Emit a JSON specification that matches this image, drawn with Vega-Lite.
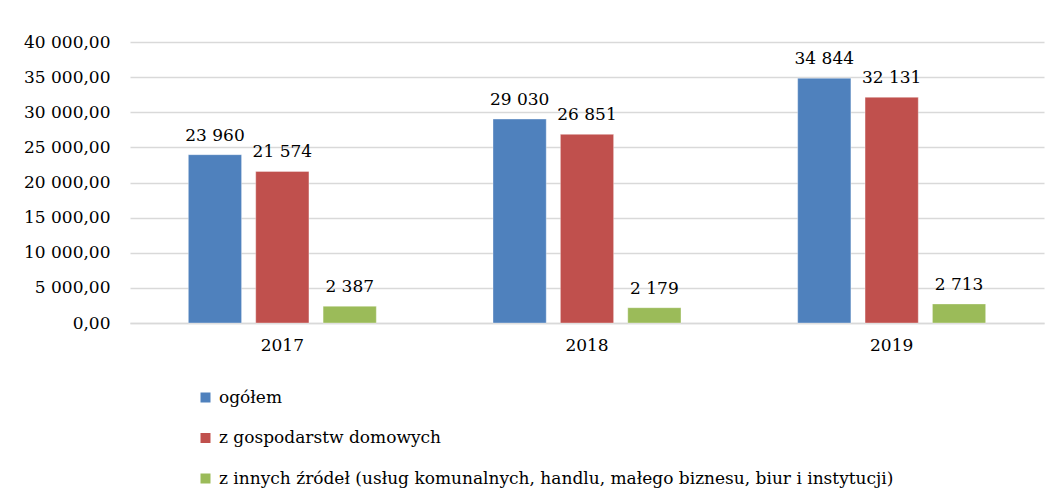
{
  "$schema": "https://vega.github.io/schema/vega-lite/v6.json",
  "width": 914,
  "height": 281,
  "autosize": "none",
  "padding": {"left": 130, "top": 42, "right": 16, "bottom": 175},
  "background": "white",
  "config": {
    "font": "DejaVu Serif",
    "view": {"stroke": null},
    "locale": {"number": {"decimal": ",", "thousands": " ", "grouping": [3], "currency": ["", ""]}}
  },
  "data": {
    "values": [
      {"rok": "2017", "seria": "ogółem", "wartosc": 23960},
      {"rok": "2017", "seria": "z gospodarstw domowych", "wartosc": 21574},
      {"rok": "2017", "seria": "z innych źródeł (usług komunalnych, handlu, małego biznesu, biur i instytucji)", "wartosc": 2387},
      {"rok": "2018", "seria": "ogółem", "wartosc": 29030},
      {"rok": "2018", "seria": "z gospodarstw domowych", "wartosc": 26851},
      {"rok": "2018", "seria": "z innych źródeł (usług komunalnych, handlu, małego biznesu, biur i instytucji)", "wartosc": 2179},
      {"rok": "2019", "seria": "ogółem", "wartosc": 34844},
      {"rok": "2019", "seria": "z gospodarstw domowych", "wartosc": 32131},
      {"rok": "2019", "seria": "z innych źródeł (usług komunalnych, handlu, małego biznesu, biur i instytucji)", "wartosc": 2713}
    ]
  },
  "encoding": {
    "x": {
      "field": "rok", "type": "nominal",
      "scale": {"paddingInner": 0.383, "paddingOuter": 0.1915},
      "axis": {"title": null, "labelAngle": 0, "labelFontSize": 17, "labelColor": "#000", "ticks": false, "labelPadding": 14, "domainColor": "#d9d9d9", "domainWidth": 1.5}
    },
    "xOffset": {
      "field": "seria", "type": "nominal",
      "scale": {"paddingInner": 0.21, "paddingOuter": 0},
      "sort": ["ogółem", "z gospodarstw domowych", "z innych źródeł (usług komunalnych, handlu, małego biznesu, biur i instytucji)"]
    },
    "y": {
      "field": "wartosc", "type": "quantitative",
      "scale": {"domain": [0, 40000]},
      "axis": {"title": null, "values": [0, 5000, 10000, 15000, 20000, 25000, 30000, 35000, 40000], "format": ",.2f", "labelFontSize": 17, "labelColor": "#000", "ticks": false, "domain": false, "labelPadding": 20, "gridColor": "#d9d9d9", "gridWidth": 1.5}
    }
  },
  "layer": [
    {
      "mark": {"type": "bar", "stroke": "white", "strokeOpacity": 0.35, "strokeWidth": 1},
      "encoding": {
        "color": {
          "field": "seria", "type": "nominal",
          "sort": ["ogółem", "z gospodarstw domowych", "z innych źródeł (usług komunalnych, handlu, małego biznesu, biur i instytucji)"],
          "scale": {"range": ["#4F81BD", "#C0504D", "#9BBB59"]},
          "legend": {
            "title": null, "orient": "none", "legendX": 67, "legendY": 347,
            "direction": "vertical", "symbolType": "square", "symbolSize": 100, "symbolStrokeWidth": 0,
            "labelFontSize": 17, "labelColor": "#000", "labelLimit": 900, "rowPadding": 22.5, "labelOffset": 5, "padding": 0
          }
        }
      }
    },
    {
      "mark": {"type": "text", "baseline": "bottom", "dy": -10, "fontSize": 17, "color": "#000"},
      "encoding": {
        "text": {"field": "wartosc", "type": "quantitative", "format": ",.0f"}
      }
    }
  ]
}
